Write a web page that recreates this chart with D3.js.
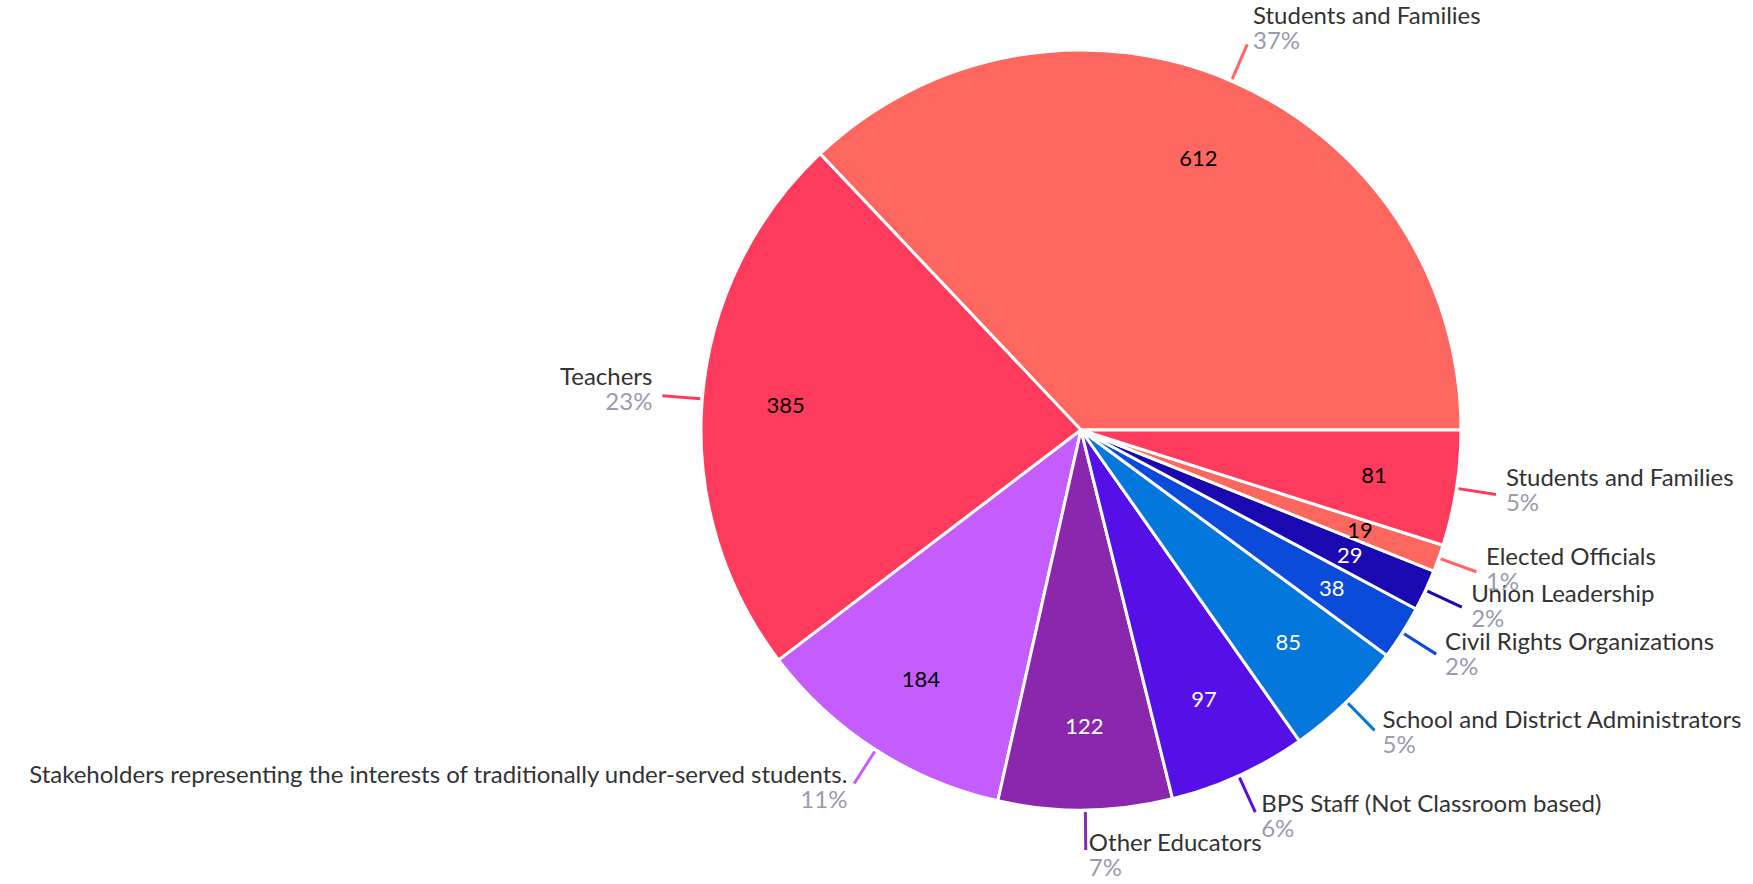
<!DOCTYPE html>
<html>
<head>
<meta charset="utf-8">
<script src="https://cdn.jsdelivr.net/npm/d3@7"></script>
<style>
  body { margin: 0; background: #fff; }
  svg text { font-family: "Lato", "Noto Sans", sans-serif; }
</style>
</head>
<body>
<div id="pieChart"></div>
<script>
var categories = [
  "Students and Families",
  "Teachers",
  "Stakeholders representing the interests of traditionally under-served students.",
  "Other Educators",
  "BPS Staff (Not Classroom based)",
  "School and District Administrators",
  "Civil Rights Organizations",
  "Union Leadership",
  "Elected Officials",
  "Students and Families"
];
var values = [612, 385, 184, 122, 97, 85, 38, 29, 19, 81];
var palette = ["#fe675f", "#fe3b5c", "#c55cfe", "#8a27ad", "#5510e8", "#0377db", "#0a4bd9", "#1a09b0"];
var darkText = ["#fe675f", "#fe3b5c", "#c55cfe"];   // slices that get black numbers

var width = 1753, height = 884;
var radius = 380;
var cx = 1081, cy = 430;

var total = d3.sum(values);
var data = categories.map(function(c, i) { return {Title: c, Amount: values[i], idx: i}; });

var color = function(i) { return palette[i % palette.length]; };

// counter-clockwise from 3 o'clock
var pie = d3.pie()
  .sort(null)
  .startAngle(Math.PI / 2)
  .endAngle(Math.PI / 2 - 2 * Math.PI)
  .value(function(d) { return d.Amount; });

var arc = d3.arc().outerRadius(radius).innerRadius(0);
var labelArc = d3.arc().outerRadius(radius * 0.78).innerRadius(radius * 0.78);

var svg = d3.select("#pieChart").append("svg")
  .attr("width", width)
  .attr("height", height)
  .append("g")
  .attr("transform", "translate(" + cx + "," + cy + ")");

var arcs = pie(data);

svg.selectAll("path.slice")
  .data(arcs)
  .enter().append("path")
  .attr("class", "slice")
  .attr("d", arc)
  .style("fill", function(d) { return color(d.data.idx); })
  .style("stroke", "#fff")
  .style("stroke-width", 3)
  .style("stroke-linejoin", "round");

// value numbers inside
svg.selectAll("text.val")
  .data(arcs)
  .enter().append("text")
  .attr("class", "val")
  .attr("transform", function(d) { return "translate(" + labelArc.centroid(d) + ")"; })
  .attr("text-anchor", "middle")
  .attr("dy", "0.35em")
  .style("font-size", "22px")
  .style("fill", function(d) {
    return darkText.indexOf(color(d.data.idx)) >= 0 ? "#000" : "#fff";
  })
  .text(function(d) { return d.data.Amount; });

var pt = function(a, r) { return [r * Math.sin(a), -r * Math.cos(a)]; };
var mid = function(d) { return (d.startAngle + d.endAngle) / 2; };

// leader lines
svg.selectAll("line.lead")
  .data(arcs)
  .enter().append("line")
  .attr("class", "lead")
  .attr("x1", function(d) { return pt(mid(d), radius + 2)[0]; })
  .attr("y1", function(d) { return pt(mid(d), radius + 2)[1]; })
  .attr("x2", function(d) { return pt(mid(d), radius + 40)[0]; })
  .attr("y2", function(d) { return pt(mid(d), radius + 40)[1]; })
  .style("stroke", function(d) { return color(d.data.idx); })
  .style("stroke-width", 3);

var outer = svg.selectAll("g.outer")
  .data(arcs)
  .enter().append("g")
  .attr("class", "outer")
  .attr("transform", function(d) {
    var a = mid(d);
    var p = pt(a, radius + 40);
    var gap = 3 + 7 * Math.abs(Math.sin(a));
    var right = Math.sin(a) >= 0;
    return "translate(" + (p[0] + (right ? gap : -gap)) + "," + (p[1] - 11 * Math.cos(a)) + ")";
  })
  .attr("text-anchor", function(d) { return Math.sin(mid(d)) >= 0 ? "start" : "end"; });

outer.append("text")
  .attr("y", -10)
  .style("font-size", "24px")
  .style("fill", "#333")
  .text(function(d) { return d.data.Title; });

outer.append("text")
  .attr("y", 15)
  .style("font-size", "24px")
  .style("fill", "#9a9ab2")
  .text(function(d) { return Math.round(d.data.Amount / total * 100) + "%"; });
</script>
</body>
</html>
